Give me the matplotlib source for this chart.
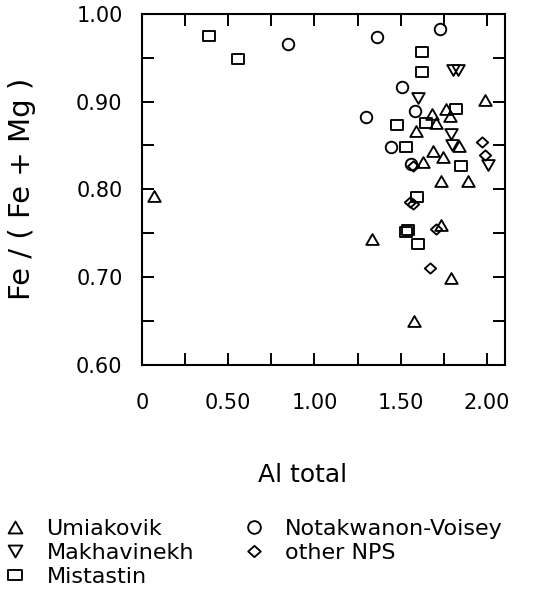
import matplotlib
matplotlib.use('Agg')
import numpy as np
import matplotlib.pyplot as plt
from matplotlib.path import Path

# Al total vs Fe/(Fe+Mg) for each intrusion
umiakovik_al = [0.070, 1.988, 1.681, 1.766, 1.786, 1.704, 1.588, 1.838, 1.689,
                1.747, 1.627, 1.733, 1.892, 1.733, 1.332, 1.795, 1.579]
umiakovik_fe = [0.792, 0.902, 0.886, 0.891, 0.884, 0.875, 0.866, 0.849, 0.844,
                0.837, 0.831, 0.809, 0.809, 0.759, 0.743, 0.699, 0.650]

makhavinekh_al = [1.803, 1.832, 1.600, 1.795, 1.797, 2.007]
makhavinekh_fe = [0.936, 0.936, 0.904, 0.863, 0.851, 0.828]

mistastin_al = [0.388, 0.558, 1.623, 1.623, 1.819, 1.480, 1.645, 1.529, 1.853,
                1.596, 1.542, 1.530, 1.598]
mistastin_fe = [0.975, 0.949, 0.957, 0.934, 0.891, 0.873, 0.875, 0.848, 0.827,
                0.791, 0.754, 0.751, 0.738]

notakwanon_al = [0.848, 1.361, 1.728, 1.506, 1.583, 1.299, 1.442, 1.559]
notakwanon_fe = [0.965, 0.973, 0.983, 0.917, 0.889, 0.882, 0.848, 0.829]

nps_al = [1.973, 1.988, 1.571, 1.552, 1.573, 1.704, 1.670]
nps_fe = [0.854, 0.839, 0.827, 0.786, 0.783, 0.755, 0.710]

x_ticks = [0, 0.25, 0.5, 0.75, 1.0, 1.25, 1.5, 1.75, 2.0]
x_labels = ['0', '', '0.50', '', '1.00', '', '1.50', '', '2.00']
y_ticks = [0.60, 0.65, 0.70, 0.75, 0.80, 0.85, 0.90, 0.95, 1.00]
y_labels = ['0.60', '', '0.70', '', '0.80', '', '0.90', '', '1.00']

# hollow marker shapes (equilateral triangles, flat box, diamond)
tri_up = Path([(-1, -0.866), (1, -0.866), (0, 0.866), (-1, -0.866)],
              [Path.MOVETO, Path.LINETO, Path.LINETO, Path.CLOSEPOLY])
tri_dn = Path([(-1, 0.866), (1, 0.866), (0, -0.866), (-1, 0.866)],
              [Path.MOVETO, Path.LINETO, Path.LINETO, Path.CLOSEPOLY])
box = Path([(-1, -0.78), (1, -0.78), (1, 0.78), (-1, 0.78), (-1, -0.78)],
           [Path.MOVETO, Path.LINETO, Path.LINETO, Path.LINETO, Path.CLOSEPOLY])
diamond = Path([(0, 0.9), (1, 0), (0, -0.9), (-1, 0), (0, 0.9)],
               [Path.MOVETO, Path.LINETO, Path.LINETO, Path.LINETO, Path.CLOSEPOLY])

plt.rcParams['font.family'] = 'DejaVu Sans'

fig = plt.figure(figsize=(5.36, 5.99), dpi=100)
ax = fig.add_axes([0.265, 0.391, 0.677, 0.586])

style = dict(linestyle='none', mfc='none', mec='black', mew=1.35)
h1, = ax.plot(umiakovik_al, umiakovik_fe, marker=tri_up, ms=9, label='Umiakovik', **style)
h2, = ax.plot(makhavinekh_al, makhavinekh_fe, marker=tri_dn, ms=9, label='Makhavinekh', **style)
h3, = ax.plot(mistastin_al, mistastin_fe, marker=box, ms=8.6, label='Mistastin', **style)
h4, = ax.plot(notakwanon_al, notakwanon_fe, marker='o', ms=8.3, label='Notakwanon-Voisey', **style)
h5, = ax.plot(nps_al, nps_fe, marker=diamond, ms=8.2, label='other NPS', **style)

ax.set_xlim(0, 2.105)
ax.set_ylim(0.60, 1.00)
ax.set_xticks(x_ticks)
ax.set_xticklabels(x_labels)
ax.set_yticks(y_ticks)
ax.set_yticklabels(y_labels)
ax.tick_params(axis='both', direction='in', top=True, right=True,
               length=8.5, width=1.4, labelsize=15)
ax.tick_params(axis='x', pad=20)
ax.tick_params(axis='y', pad=14)
for sp in ax.spines.values():
    sp.set_linewidth(1.5)

ax.set_xlabel('Al total', fontsize=18)
ax.xaxis.set_label_coords(0.4435, -0.279)
ax.set_ylabel('Fe / ( Fe + Mg )', fontsize=21)
ax.yaxis.set_label_coords(-0.292, 0.50)

fig.legend(handles=[h1, h2, h3, h4, h5], ncol=2, frameon=False,
           loc='upper left', bbox_to_anchor=(-0.025, 0.16),
           fontsize=16, handlelength=1.2, handletextpad=0.8, markerscale=1.1,
           labelspacing=0.18, columnspacing=2.1, borderpad=0.2)

fig.savefig('out.png', dpi=100)
